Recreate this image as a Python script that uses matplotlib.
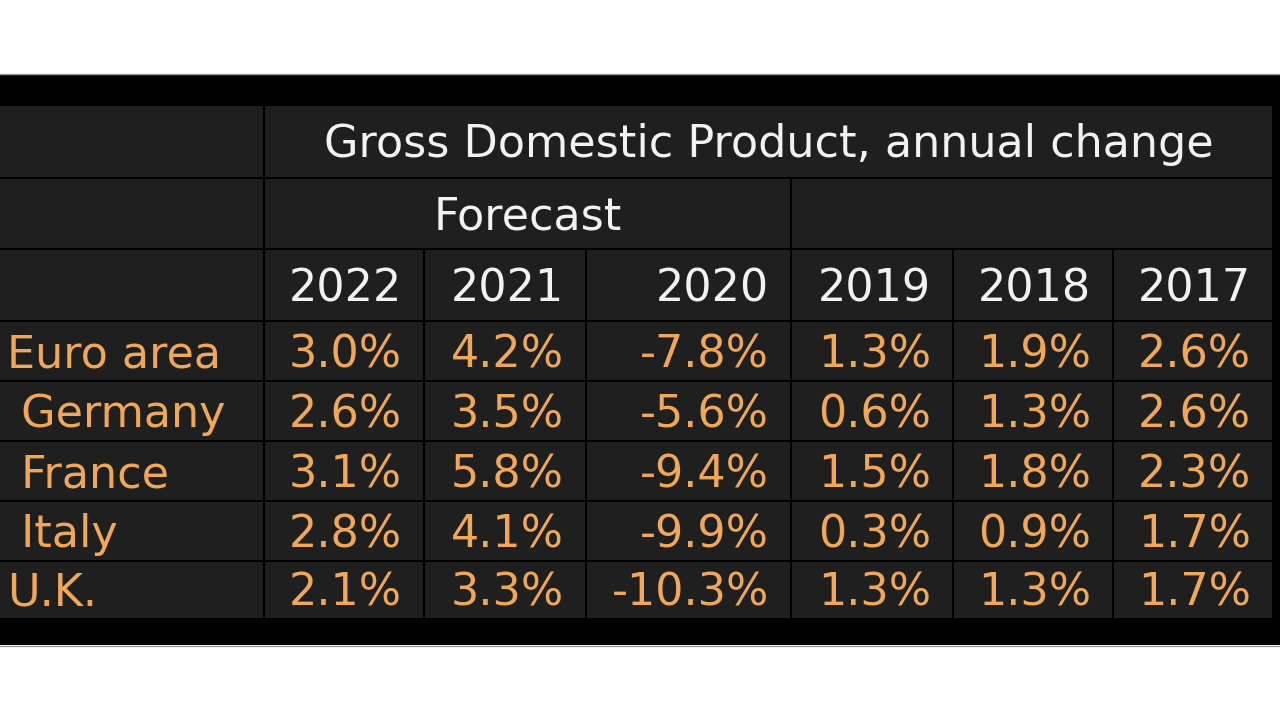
import matplotlib
matplotlib.use("Agg")
import matplotlib.pyplot as plt
from matplotlib.patches import Rectangle

# ---- data ----
title = "Gross Domestic Product, annual change"
forecast_label = "Forecast"
years = ["2022", "2021", "2020", "2019", "2018", "2017"]
countries = ["Euro area", " Germany", " France", " Italy", "U.K."]
euro_area = [3.0, 4.2, -7.8, 1.3, 1.9, 2.6]
germany = [2.6, 3.5, -5.6, 0.6, 1.3, 2.6]
france = [3.1, 5.8, -9.4, 1.5, 1.8, 2.3]
italy = [2.8, 4.1, -9.9, 0.3, 0.9, 1.7]
uk = [2.1, 3.3, -10.3, 1.3, 1.3, 1.7]
values = [euro_area, germany, france, italy, uk]

# ---- layout (pixels) ----
W, H = 1280, 720
col_edges = [0, 264, 424, 586, 791, 953, 1113, 1273]
row_edges = [105, 178, 249, 321, 381, 441, 501, 561, 619]
gap = 2
cell_color = "#1f1f1f"
white = "#f2f2f2"
orange = "#f0a858"
fs = 32

fig = plt.figure(figsize=(W / 100, H / 100), dpi=100)
ax = fig.add_axes([0, 0, 1, 1])
ax.set_xlim(0, W)
ax.set_ylim(H, 0)
ax.axis("off")
fig.patch.set_facecolor("white")

# black band
ax.add_patch(Rectangle((0, 74), W, 571, facecolor="#000000", edgecolor="none"))
ax.plot([0, W], [73.5, 73.5], color="#9a9a9a", lw=1)
ax.plot([0, W], [645.5, 645.5], color="#9a9a9a", lw=1)

def cell(c0, c1, r0, r1):
    x0 = col_edges[c0] + (gap / 2 if c0 > 0 else 0)
    x1 = col_edges[c1] - gap / 2
    y0 = row_edges[r0] + gap / 2
    y1 = row_edges[r1] - gap / 2
    ax.add_patch(Rectangle((x0, y0), x1 - x0, y1 - y0, facecolor=cell_color, edgecolor="none"))
    return x0, x1, (y0 + y1) / 2

txt = dict(fontsize=fs, va="center_baseline", family="DejaVu Sans")

# label column cells for header rows
for r in range(3):
    cell(0, 1, r, r + 1)
# title row
x0, x1, yc = cell(1, 7, 0, 1)
ax.text((x0 + x1) / 2, yc - 2, title, color=white, ha="center", **txt)
# forecast row
x0, x1, yc = cell(1, 4, 1, 2)
ax.text((x0 + x1) / 2, yc - 1, forecast_label, color=white, ha="center", **txt)
cell(4, 7, 1, 2)
# year row
for j, y in enumerate(years):
    x0, x1, yc = cell(j + 1, j + 2, 2, 3)
    ax.text(x1 - 21, yc, y, color=white, ha="right", **txt)
# data rows
for i, name in enumerate(countries):
    x0, x1, yc = cell(0, 1, 3 + i, 4 + i)
    ax.text(7, yc - 1, name, color=orange, ha="left", **txt)
    for j, v in enumerate(values[i]):
        x0, x1, yc = cell(j + 1, j + 2, 3 + i, 4 + i)
        ax.text(x1 - 21, yc - 1, f"{v:.1f}%", color=orange, ha="right", **txt)

fig.savefig("out.png", dpi=100, facecolor="white")
